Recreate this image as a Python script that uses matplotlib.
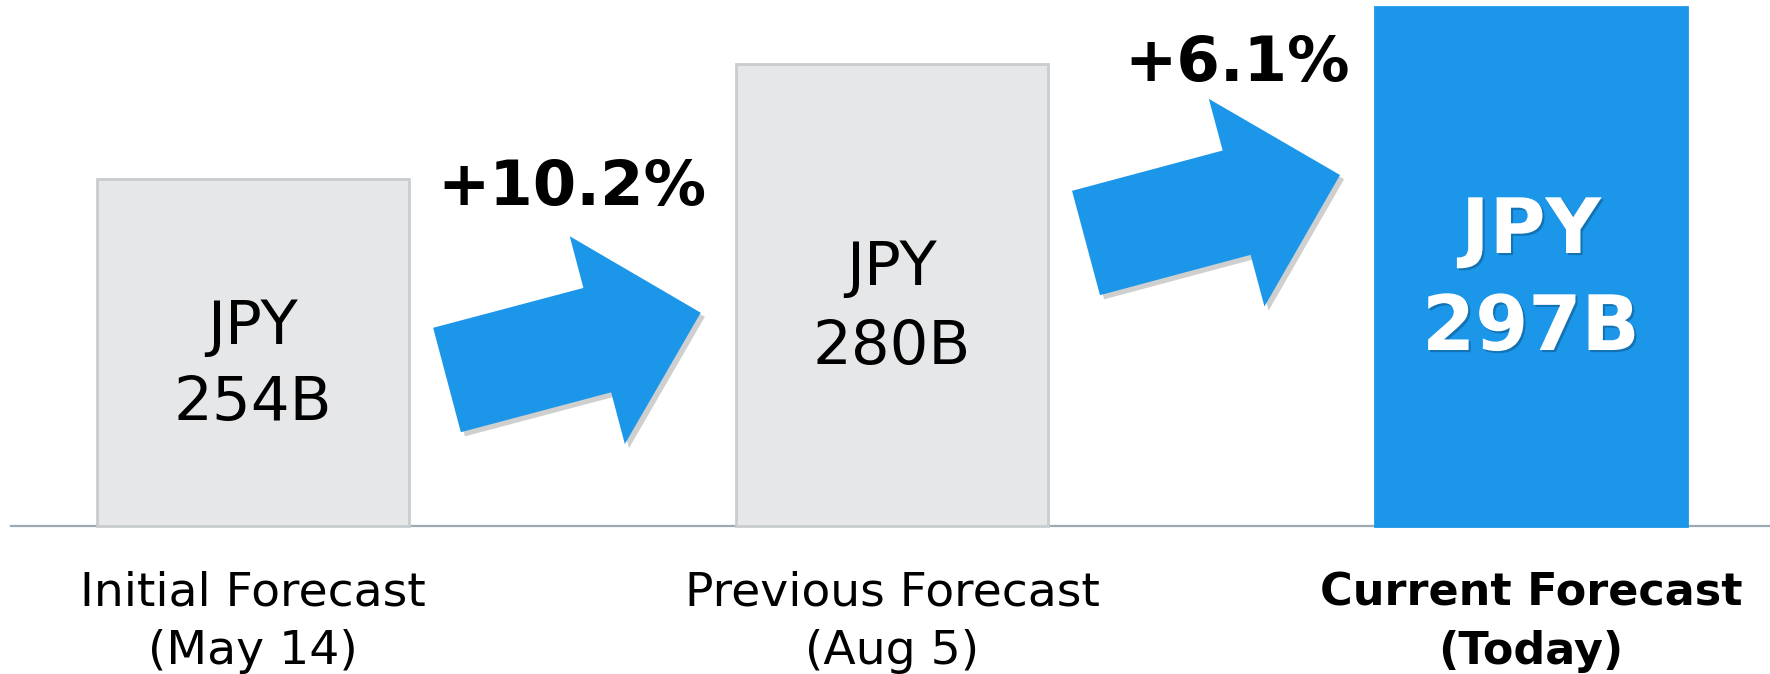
import matplotlib
matplotlib.use("Agg")
import matplotlib.pyplot as plt
import matplotlib.patheffects as pe
import matplotlib.transforms as mtransforms
from matplotlib.patches import FancyArrow

# データ
categories = ["Initial Forecast", "Previous Forecast", "Current Forecast"]
dates = ["(May 14)", "(Aug 5)", "(Today)"]
forecast_bn = [254, 280, 297]
bar_heights = [0.669, 0.890, 1.000]   # 図の見た目の高さ (最大値=1)
growth_pct = [10.2, 6.1]

GRAY = "#E6E7E9"
GRAY_EDGE = "#C8CDD0"
BLUE = "#1B96E8"

W, H = 1770, 674
fig = plt.figure(figsize=(W / 100, H / 100), dpi=100)

# 棒グラフ用の軸 (0 = 基線)
ax = fig.add_axes([0, 0, 1, 1])
base_px = 526          # 上からの基線位置
unit_px = 519          # 高さ 1.0 あたりのピクセル
step_px = 639
x0_px = 253
ax.set_xlim(-x0_px / step_px, (W - x0_px) / step_px)
ax.set_ylim(-(H - base_px) / unit_px, base_px / unit_px)
ax.axis("off")

x = list(range(len(categories)))
colors = [GRAY, GRAY, BLUE]
edges = [GRAY_EDGE, GRAY_EDGE, BLUE]
ax.axhline(0, xmin=11 / W, xmax=1, color="#9DAAB3", lw=1.6, zorder=1)
ax.bar(x, bar_heights, width=0.487, color=colors, edgecolor=edges,
       linewidth=2, zorder=2)

# 装飾用のピクセル座標軸 (上から下へ)
ov = fig.add_axes([0, 0, 1, 1], zorder=3)
ov.set_xlim(0, W)
ov.set_ylim(H, 0)
ov.axis("off")
ov.patch.set_alpha(0)

mix = mtransforms.blended_transform_factory(ax.transData, ov.transData)

# 棒の中のラベル
inner_y = [(344, 420), (285, 364), (253, 350)]
for i, v in enumerate(forecast_bn):
    y1, y2 = inner_y[i]
    if i == 2:
        kw = dict(fontsize=55, fontweight="bold", color="white",
                  path_effects=[pe.withSimplePatchShadow(offset=(1.5, -1.5),
                                shadow_rgbFace="#0b4f80", alpha=0.5)])
    else:
        kw = dict(fontsize=44, color="black")
    ax.text(i, y1, "JPY", ha="center", va="baseline", transform=mix, **kw)
    ax.text(i, y2, f"{v}B", ha="center", va="baseline", transform=mix, **kw)

# 下のカテゴリ名
for i, (c, d) in enumerate(zip(categories, dates)):
    if i == 2:
        fw, fs = "bold", 32
    else:
        fw, fs = "normal", 34
    ax.text(i, 606, c, ha="center", va="baseline", fontsize=fs,
            fontweight=fw, transform=mix)
    ax.text(i, 664, d, ha="center", va="baseline", fontsize=fs,
            fontweight=fw, transform=mix)

# 矢印と伸び率
arrows = [((447, 380), (700.7, 312.7)), ((1086, 243), (1340, 175))]
pct_pos = [(571.5, 205), (1237, 81)]
for (tail, tip), g, (tx, ty) in zip(arrows, growth_pct, pct_pos):
    arr = FancyArrow(tail[0], tail[1], tip[0] - tail[0], tip[1] - tail[1],
                     width=108, head_width=215, head_length=107,
                     length_includes_head=True, color=BLUE, lw=0)
    arr.set_path_effects([pe.SimplePatchShadow(offset=(3, -3),
                                               shadow_rgbFace="#777777",
                                               alpha=0.35),
                          pe.Normal()])
    ov.add_patch(arr)
    ov.text(tx, ty, f"+{g}%", ha="center", va="baseline", fontsize=45,
            fontweight="bold", color="black")

fig.savefig("out.png", dpi=100, facecolor="white")
